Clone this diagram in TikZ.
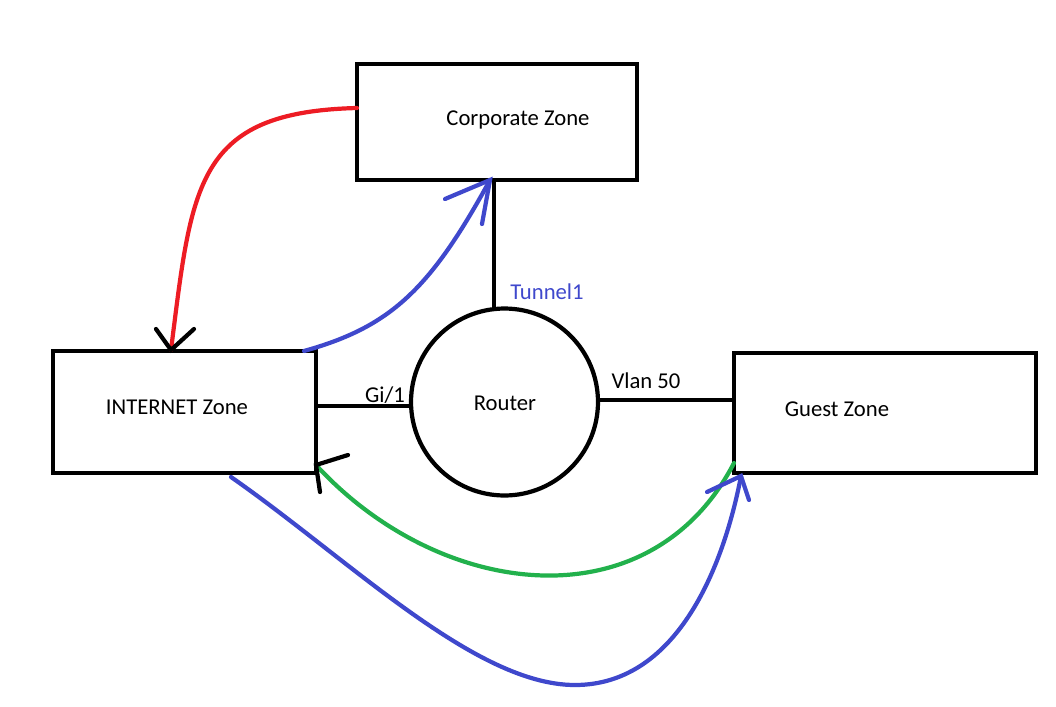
\documentclass[tikz,border=0pt]{standalone}
\usepackage{fontspec}
\setmainfont{Carlito}
\definecolor{pred}{RGB}{237,28,36}
\definecolor{pblue}{RGB}{63,72,204}
\definecolor{pgreen}{RGB}{34,177,76}
\begin{document}
\begin{tikzpicture}[x=0.02cm,y=-0.02cm,
  zone/.style={draw=black,line width=2.4pt,minimum width=#1,inner sep=0pt},
  lbl/.style={font=\fontsize{12.9pt}{14pt}\selectfont,inner sep=0pt},
  wire/.style={line width=2.4pt,black},
  flow/.style={line width=2.4pt,line cap=round},
  tipline/.style={line width=2.4pt,line cap=round}]
\useasboundingbox (0,0) rectangle (1056,707);
% boxes
\node[zone, minimum width=5.6cm, minimum height=2.32cm] (corp) at (497,122) {};
\node[zone, minimum width=5.26cm, minimum height=2.44cm] (inet) at (184.5,412) {};
\node[zone, minimum width=6.04cm, minimum height=2.4cm] (guest) at (885,413) {};
\node[draw=black,line width=2.4pt,circle,minimum size=3.74cm,inner sep=0pt] (router) at (504.5,402) {};
% labels
\node[lbl] (tcorp) at (518,120) {Corporate Zone};
\node[lbl] (tinet) at (177,407) {INTERNET Zone};
\node[lbl] (tguest) at (837,409) {Guest Zone};
\node[lbl] (trouter) at (505,403) {Router};
\node[lbl] (tgi) at (385,395) {Gi/1};
\node[lbl] (tvlan) at (646,381) {Vlan 50};
\node[lbl,text=pblue] (ttun) at (547,292) {Tunnel1};
% wires
\coordinate (c1) at (494,180);
\coordinate (c2) at (494,309);
\draw[wire] (c1) -- (c2);
\coordinate (g1) at (316,406);
\coordinate (g2) at (411,406);
\draw[wire] (g1) -- (g2);
\coordinate (v1) at (598,400);
\coordinate (v2) at (734,400);
\draw[wire] (v1) -- (v2);
% red flow
\coordinate (rs) at (357,108);
\coordinate (re) at (171,350);
\draw[flow,pred] (rs) .. controls (195,112) and (192,185) .. (re);
\coordinate (ra) at (156,329);
\coordinate (rb) at (194,329);
\draw[tipline,black] (ra) -- (re) -- (rb);
% blue flow to corporate
\coordinate (bs) at (304,351);
\coordinate (be) at (490,180);
\draw[flow,pblue] (bs) .. controls (390,327) and (430,290) .. (be);
\coordinate (ba) at (445,199);
\coordinate (bb) at (482,224);
\draw[tipline,pblue] (ba) -- (be) -- (bb);
% green flow
\coordinate (gs) at (734,463);
\coordinate (ge) at (316,465);
\draw[flow,pgreen] (gs) .. controls (650,625) and (440,600) .. (ge);
\coordinate (ga) at (348,455);
\coordinate (gb) at (320,492);
\draw[tipline,black] (ga) -- (ge) -- (gb);
% blue flow to guest
\coordinate (qs) at (231,477);
\coordinate (qm) at (575,685);
\coordinate (qe) at (741,476);
\draw[flow,pblue] (qs) .. controls (350,560) and (475,685) .. (qm) .. controls (680,685) and (725,560) .. (qe);
\coordinate (qa) at (707,492);
\coordinate (qb) at (749,500);
\draw[tipline,pblue] (qa) -- (qe) -- (qb);
\end{tikzpicture}
\end{document}
